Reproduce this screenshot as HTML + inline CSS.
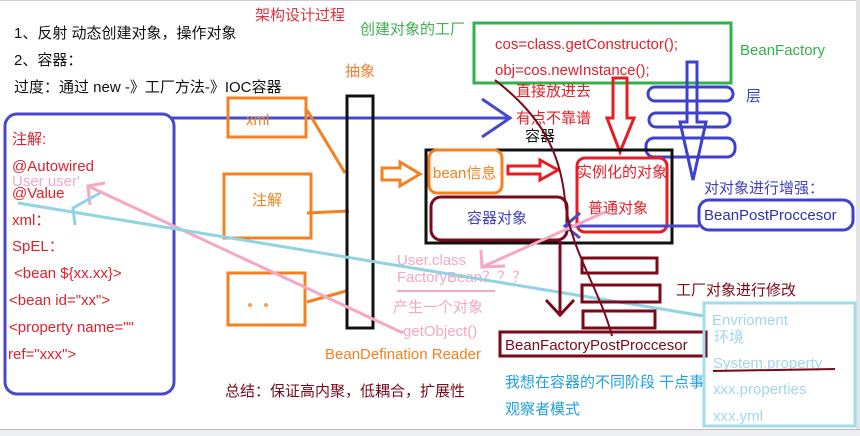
<!DOCTYPE html>
<html><head><meta charset="utf-8"><style>
body{margin:0;background:#fff}
svg{display:block}
text{font-family:"Liberation Sans","Noto Sans CJK SC",sans-serif;font-size:15px}
</style></head><body>
<svg width="860" height="436" viewBox="0 0 860 436" xmlns="http://www.w3.org/2000/svg">
<rect width="860" height="436" fill="#fff"/>
<line x1="0" y1="0.5" x2="860" y2="0.5" stroke="#ccd" />
<rect x="856" y="0" width="4" height="436" fill="#e4e4e8"/>
<rect x="0" y="430" width="860" height="6" fill="#eceef2"/>
<line x1="0" y1="429.5" x2="860" y2="429.5" stroke="#bbb"/>

<text x="14" y="38" fill="#111" font-size="15.5">1、反射 动态创建对象，操作对象</text>
<text x="14" y="65" fill="#111" font-size="15.5">2、容器：</text>
<text x="14" y="92" fill="#111" font-size="15.5">过度：通过 new -》工厂方法-》IOC容器</text>
<text x="255" y="20" fill="#e0303a">架构设计过程</text>
<text x="360" y="34" fill="#3cb050">创建对象的工厂</text>
<text x="345" y="76" fill="#f08030">抽象</text>

<rect x="474" y="23" width="257" height="60" fill="none" stroke="#2fb24a" stroke-width="3"/>
<text x="495" y="49" fill="#e0202a" font-size="14.5">cos=class.getConstructor();</text>
<text x="495" y="75" fill="#e0202a" font-size="14.5">obj=cos.newInstance();</text>
<text x="740" y="55" fill="#2fb24a">BeanFactory</text>

<g fill="none" stroke="#4040d0" stroke-width="3">
<rect x="648" y="87" width="85" height="14" rx="7"/>
<rect x="649" y="113" width="81" height="14" rx="7"/>
<rect x="646" y="138" width="89" height="19" rx="8"/>
<polygon points="687,62 697,62 697,122 706,122 693,180 680,122 687,122"/>
</g>
<text x="746" y="101" fill="#4040d0">层</text>

<polygon points="613,78 627,78 627,118 634,118 620,152 607,118 613,118" fill="none" stroke="#e81c24" stroke-width="3"/>
<text x="516" y="96" fill="#e0202a">直接放进去</text>
<text x="516" y="123" fill="#e0202a">有点不靠谱</text>
<text x="525" y="141" fill="#111">容器</text>

<g stroke="#4848cc" stroke-width="3" fill="none">
<line x1="172" y1="118" x2="510" y2="118"/>
<polyline points="482,99 510,118 482,137"/>
</g>

<rect x="5" y="114" width="169" height="280" rx="12" fill="none" stroke="#4848cc" stroke-width="3"/>
<g fill="#e0202a">
<text x="12" y="144">注解:</text>
<text x="12" y="171">@Autowired</text>
<text x="12" y="198">@Value</text>
<text x="12" y="225">xml：</text>
<text x="12" y="251">SpEL：</text>
<text x="14" y="278">&lt;bean ${xx.xx}&gt;</text>
<text x="9" y="305">&lt;bean id="xx"&gt;</text>
<text x="9" y="332">&lt;property name=""</text>
<text x="8" y="359">ref="xxx"&gt;</text>
</g>
<text x="12" y="186" fill="#f4a8c4">User user'</text>

<g fill="none" stroke="#f58020" stroke-width="3">
<rect x="228" y="98" width="78" height="39"/>
<rect x="224" y="174" width="87" height="64"/>
<rect x="228" y="273" width="77" height="52"/>
<line x1="307" y1="110" x2="345" y2="173"/>
<line x1="307" y1="213" x2="349" y2="211"/>
<line x1="307" y1="302" x2="346" y2="291"/>
<polygon points="382,168 400,168 400,162 420,174 400,186 400,180 382,180"/>
</g>
<text x="246" y="125" fill="#f58020">xml</text>
<text x="252" y="205" fill="#f58020">注解</text>
<circle cx="250" cy="305" r="2" fill="#f0a060"/>
<circle cx="266" cy="305" r="2" fill="#f0a060"/>

<rect x="347" y="96" width="26" height="232" fill="none" stroke="#111" stroke-width="3"/>

<rect x="426" y="150" width="246" height="93" fill="none" stroke="#111" stroke-width="3"/>
<rect x="429" y="150" width="73" height="43" rx="8" fill="none" stroke="#f58020" stroke-width="3"/>
<text x="433" y="178" fill="#f58020">bean信息</text>
<rect x="431" y="197" width="136" height="43" rx="10" fill="none" stroke="#7a0a1a" stroke-width="3"/>
<text x="467" y="223" fill="#4040c0">容器对象</text>
<rect x="577" y="158" width="90" height="74" rx="8" fill="none" stroke="#e81c24" stroke-width="3"/>
<text x="577" y="177" fill="#e0202a">实例化的对象</text>
<text x="588" y="213" fill="#e0202a">普通对象</text>
<polygon points="508,166 540,166 540,160 558,170 540,180 540,174 508,174" fill="none" stroke="#e81c24" stroke-width="3"/>

<text x="704" y="193" fill="#4040c0">对对象进行增强：</text>
<rect x="699" y="200" width="154" height="30" rx="10" fill="none" stroke="#4040d0" stroke-width="3"/>
<text x="704" y="220" fill="#3030b0">BeanPostProccesor</text>
<g stroke="#4848cc" stroke-width="3" fill="none">
<line x1="699" y1="226" x2="565" y2="226"/>
<polyline points="580,213 565,226 580,238"/>
</g>

<g stroke="#f4a8c4" stroke-width="3" fill="none">
<line x1="88" y1="186" x2="403" y2="333"/>
<polyline points="90,205 88,186 105,183"/>
<line x1="605" y1="212" x2="482" y2="267"/>
<polyline points="481,250 482,267 505,266"/>
<line x1="397" y1="291" x2="495" y2="291" stroke-width="2"/>
</g>
<g fill="#f4a8c4">
<text x="397" y="265">User.class</text>
<text x="397" y="282">FactoryBean？？？</text>
<text x="393" y="312">产生一个对象</text>
<text x="403" y="336">getObject()</text>
</g>

<g stroke="#90d4e4" stroke-width="3" fill="none">
<line x1="18" y1="203" x2="704" y2="316"/>
<polyline points="100,193 73,208 75,225"/>
</g>

<g stroke="#7a0a1a" stroke-width="3" fill="none">
<rect x="582" y="258" width="75" height="15"/>
<rect x="582" y="285" width="78" height="17"/>
<rect x="583" y="311" width="72" height="17"/>
<line x1="560" y1="241" x2="560" y2="315"/>
<polyline points="546,300 560,315 574,300"/>
<rect x="500" y="332" width="206" height="24"/>
<path d="M495,80 C540,115 560,150 565,200 C570,250 600,290 612,336" stroke-width="2"/>
</g>
<text x="505" y="350" fill="#7a0a1a">BeanFactoryPostProccesor</text>
<text x="676" y="295" fill="#7a0a1a">工厂对象进行修改</text>
<text x="325" y="359" fill="#f58020">BeanDefination Reader</text>
<text x="225" y="396" fill="#7a0a1a" font-size="14.5">总结：保证高内聚，低耦合，扩展性</text>
<text x="505" y="387" fill="#20a0e0" font-size="14.5">我想在容器的不同阶段 干点事</text>
<text x="505" y="414" fill="#20a0e0" font-size="14.5">观察者模式</text>

<rect x="704" y="303" width="151" height="123" fill="none" stroke="#a0dcec" stroke-width="3"/>
<g fill="#a0d8e8">
<text x="712" y="325">Envrioment</text>
<text x="714" y="342" font-size="14">环境</text>
<text x="713" y="368">System.property</text>
<text x="713" y="394">xxx.properties</text>
<text x="713" y="421">xxx.yml</text>
</g>
<line x1="713" y1="371" x2="835" y2="369" stroke="#7a0a1a" stroke-width="2"/>
</svg>
</body></html>
